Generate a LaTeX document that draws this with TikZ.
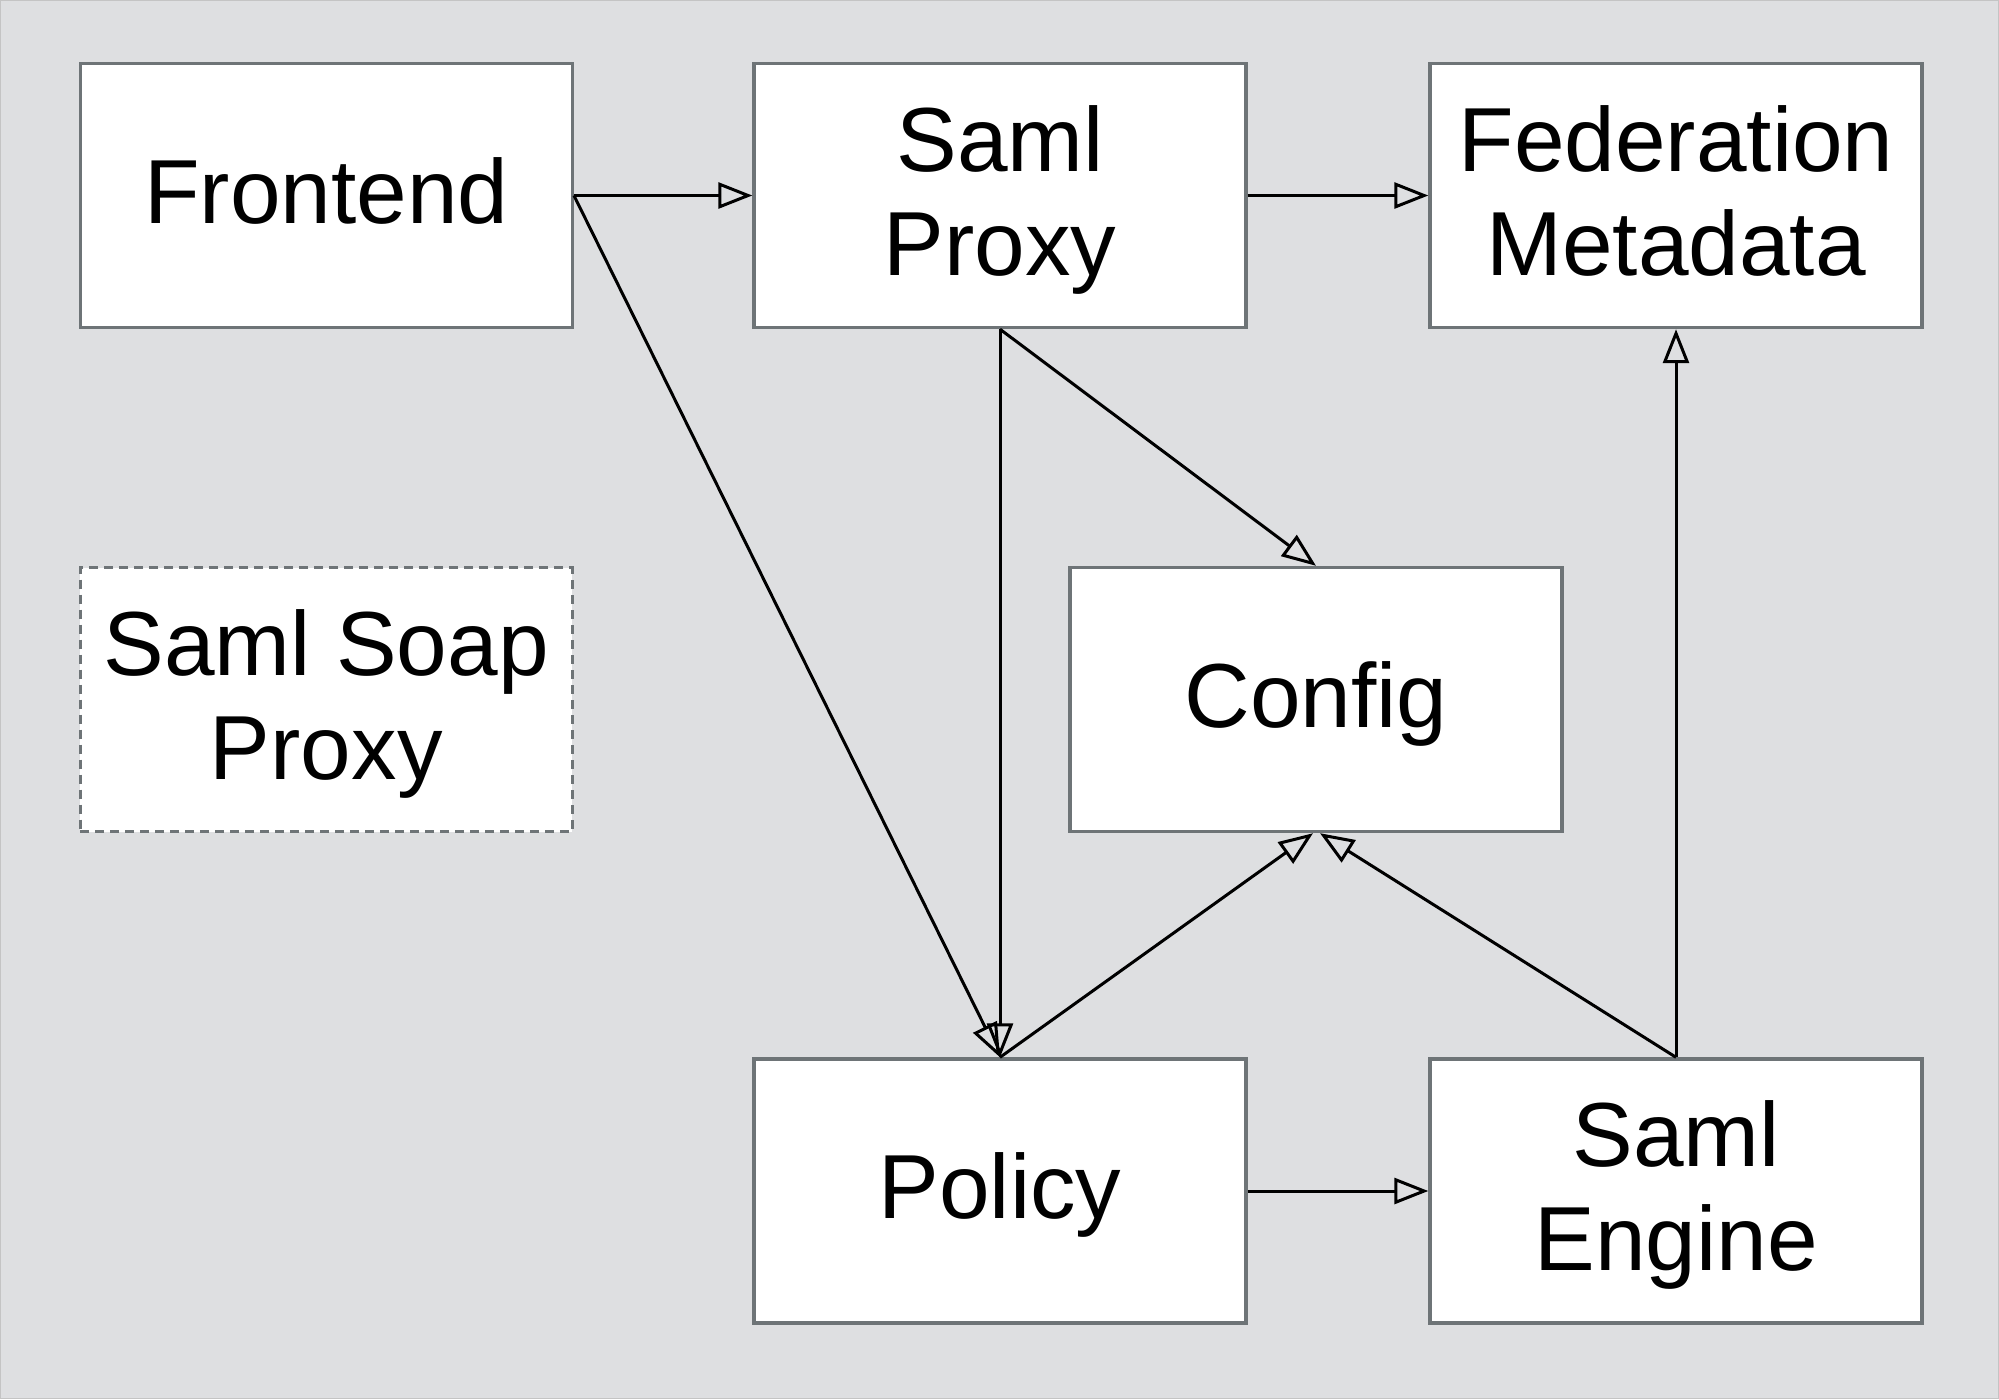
\documentclass[tikz,border=0pt]{standalone}
\usepackage{fontspec}
\setmainfont{Liberation Sans}
\usetikzlibrary{arrows.meta,calc}
\definecolor{bg}{HTML}{DEDFE1}
\definecolor{bgedge}{HTML}{C4C4C4}
\definecolor{boxedge}{HTML}{6E7477}
\newcommand\sx{\rule[-0.25em]{0pt}{1.115em}}
\begin{document}
\begin{tikzpicture}[x=0.5pt,y=-0.5pt,
  box/.style={draw=boxedge, line width=1.7pt, fill=white, minimum width=246pt, minimum height=132pt, inner sep=0pt, align=center, font=\fontsize{45.5pt}{52pt}\selectfont},
  dbox/.style={box, dash pattern=on 4.5pt off 3pt},
  conn/.style={draw=black, line width=1.5pt, -{Triangle[open, length=17pt, width=13pt]}}]
\useasboundingbox (0,0) rectangle (1999,1399);
\fill[bg] (0,0) rectangle (1999,1399);
\draw[bgedge, line width=0.5pt] (0.5,0.5) rectangle (1998.5,1398.5);

\node[box] (frontend) at (326.25,195.5) {\sx Frontend};
\node[box] (samlproxy) at (1000,195.5) {\sx Saml\\\sx Proxy};
\node[box] (fedmeta) at (1676,195.5) {\sx Federation\\\sx Metadata};
\node[dbox] (soap) at (326.25,699.5) {\sx Saml Soap\\\sx Proxy};
\node[box] (config) at (1316,699.5) {\sx Config};
\node[box] (policy) at (1000,1191) {\sx Policy};
\node[box] (engine) at (1676,1191) {\sx Saml\\\sx Engine};

\draw[conn] (frontend.east) -- (samlproxy.west);
\draw[conn] (frontend.east) -- (policy.north);
\draw[conn] (samlproxy.south) -- (policy.north);
\draw[conn] (samlproxy.south) -- (config.north);
\draw[conn] (samlproxy.east) -- (fedmeta.west);
\draw[conn] (policy.north) -- ([xshift=-1.5pt]config.south);
\draw[conn] (engine.north) -- ([xshift=2pt]config.south);
\draw[conn] (engine.north) -- (fedmeta.south);
\draw[conn] (policy.east) -- (engine.west);
\end{tikzpicture}
\end{document}
